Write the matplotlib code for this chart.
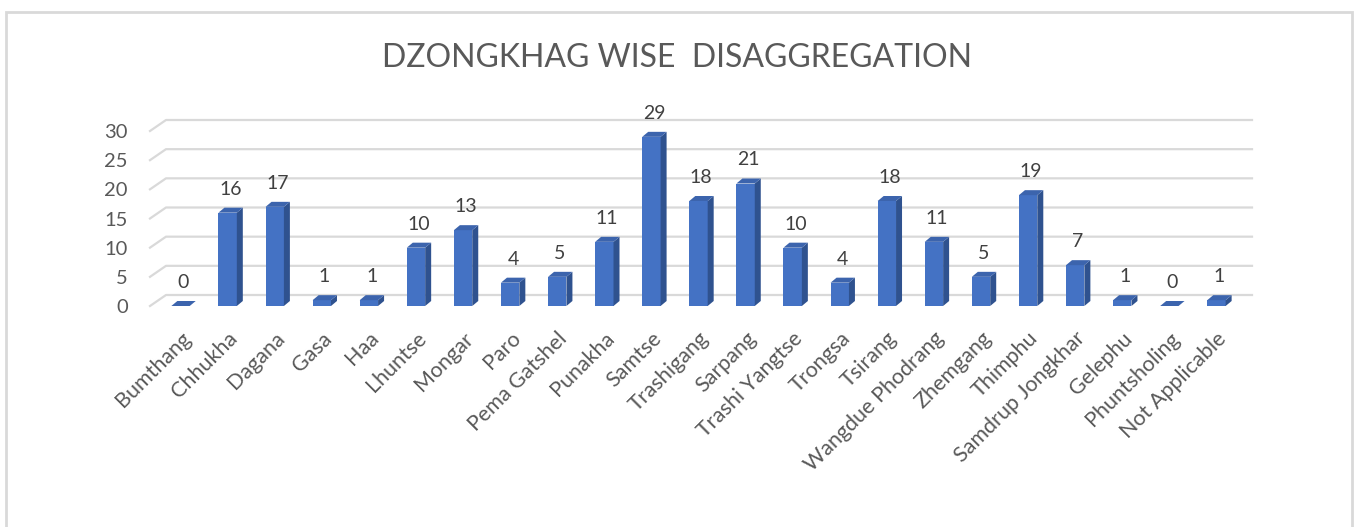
import matplotlib.pyplot as plt
from matplotlib.patches import Polygon, Rectangle

# Data
dzongkhags = ["Bumthang", "Chhukha", "Dagana", "Gasa", "Haa", "Lhuntse", "Mongar",
              "Paro", "Pema Gatshel", "Punakha", "Samtse", "Trashigang", "Sarpang",
              "Trashi Yangtse", "Trongsa", "Tsirang", "Wangdue Phodrang", "Zhemgang",
              "Thimphu", "Samdrup Jongkhar", "Gelephu", "Phuntsholing", "Not Applicable"]
counts = [0, 16, 17, 1, 1, 10, 13, 4, 5, 11, 29, 18, 21, 10, 4, 18, 11, 5, 19, 7, 1, 0, 1]
yticks = [0, 5, 10, 15, 20, 25, 30]

plt.rcParams['font.family'] = ['Lato', 'DejaVu Sans']

W, H = 1357, 527
fig = plt.figure(figsize=(W / 100, H / 100), dpi=100)

# outer chart frame
fig.patches.append(Rectangle((6 / W, -0.05), 1346 / W, 1.05 - 12 / H,
                             transform=fig.transFigure, fill=False,
                             edgecolor='#d9d9d9', lw=2))

ax_l, ax_b, ax_w, ax_h = 157, 221, 1083, 175   # pixels
ax = fig.add_axes([ax_l / W, ax_b / H, ax_w / W, ax_h / H])
n = len(dzongkhags)
ax.set_xlim(-0.5, n - 0.5)
ax.set_ylim(0, 30)
for s in ax.spines.values():
    s.set_visible(False)

# pixel -> data unit helpers for the fake 3D depth
px_x = ax_w / n
px_y = ax_h / 30.0

# back-wall gridlines with the floor slant on the left
gdx, gdy = 16 / px_x, 11 / px_y
x0 = -0.5 - 7 / px_x
x1 = n - 0.5 + 12 / px_x - gdx
for v in yticks:
    ax.plot([x0, x0 + gdx, x1 + gdx], [v, v + gdy, v + gdy],
            color='#d9d9d9', lw=1.6, clip_on=False, zorder=1)

# bars: front face + side + top
bw = 0.39
ddx, ddy = 6 / px_x, 5 / px_y
xs = list(range(n))
ax.bar(xs, counts, width=bw, color='#4472C4', zorder=3, clip_on=False)
for x, v in zip(xs, counts):
    l, r = x - bw / 2, x + bw / 2
    side = Polygon([(r, 0), (r + ddx, ddy), (r + ddx, v + ddy), (r, v)],
                   closed=True, facecolor='#2f528f', edgecolor='none',
                   zorder=3, clip_on=False)
    top = Polygon([(l, v), (r, v), (r + ddx, v + ddy), (l + ddx, v + ddy)],
                  closed=True, facecolor='#3c64ad', edgecolor='none',
                  zorder=4, clip_on=False)
    ax.add_patch(side)
    ax.add_patch(top)
    ax.annotate(str(v), (x, v), xytext=(2, 17), textcoords='offset points',
                ha='center', va='center', fontsize=14, color='#404040')

ax.set_yticks(yticks)
ax.set_yticklabels([str(t) for t in yticks], fontsize=14.5, color='#595959')
ax.tick_params(axis='y', length=0, pad=21)
for lab in ax.get_yticklabels():
    lab.set_y(lab.get_position()[1])
ax.set_xticks(xs)
ax.set_xticklabels(dzongkhags, rotation=45, ha='right', rotation_mode='anchor',
                   fontsize=15.5, color='#595959')
ax.tick_params(axis='x', length=0, pad=16)

fig.text(677 / W, 1 - 58 / H, "DZONGKHAG WISE  DISAGGREGATION", ha='center', va='center',
         fontsize=23, color='#595959')

fig.savefig("out.png", dpi=100, facecolor='white')
